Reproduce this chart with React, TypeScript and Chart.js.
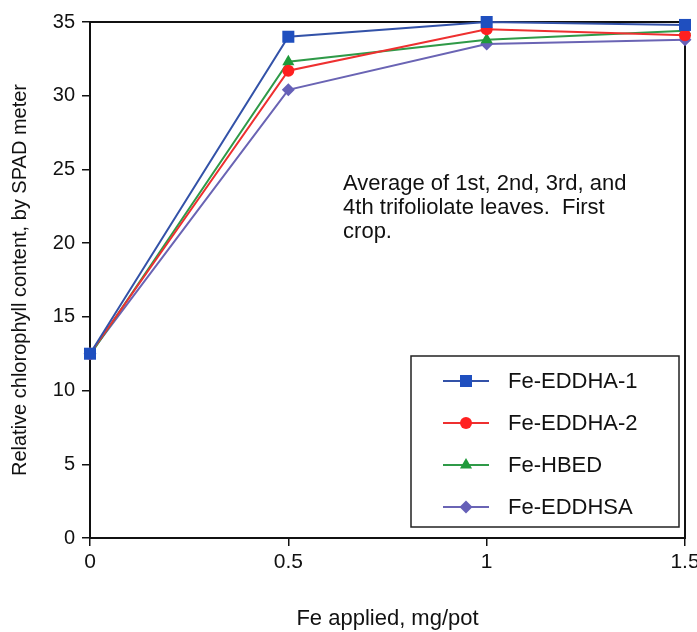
import React, { useEffect, useRef } from 'react';
import { Chart, registerables } from 'chart.js';

Chart.register(...registerables);

// ---- data ----
const feApplied = [0, 0.5, 1, 1.5];
const eddha1 = [12.5, 34.0, 35.0, 34.8];
const eddha2 = [12.5, 31.7, 34.5, 34.1];
const hbed = [12.4, 32.3, 33.8, 34.4];
const eddhsa = [12.5, 30.4, 33.5, 33.8];
const seriesNames = ['Fe-EDDHA-1', 'Fe-EDDHA-2', 'Fe-HBED', 'Fe-EDDHSA'];
const seriesValues = [eddha1, eddha2, hbed, eddhsa];
const lineColors = ['#3352a8', '#ee3030', '#2f9a48', '#6a64b4'];
const markerColors = ['#1f4fbf', '#ff2020', '#1f9a3a', '#6660b8'];
const pointStyles = ['rect', 'circle', 'triangle', 'rectRot'];
const pointSizes = [8.5, 6, 7, 6.5];
const xTickValues = [0, 0.5, 1, 1.5];
const xTickLabels = ['0', '0.5', '1', '1.5'];
const noteLines = ['Average of 1st, 2nd, 3rd, and', '4th trifoliolate leaves.  First', 'crop.'];
const noteAnchor = { x: 0.638, y: 23.6 };

const FONT = 'Arial, "Liberation Sans", Helvetica, sans-serif';
const TEXT = '#111';

function drawMarker(ctx: CanvasRenderingContext2D, style: string, x: number, y: number, r: number) {
  ctx.beginPath();
  if (style === 'rect') {
    const s = Math.SQRT1_2 * r;
    ctx.rect(x - s, y - s, 2 * s, 2 * s);
  } else if (style === 'circle') {
    ctx.arc(x, y, r, 0, Math.PI * 2);
  } else if (style === 'triangle') {
    ctx.moveTo(x, y - r);
    ctx.lineTo(x + r * 0.866, y + r * 0.5);
    ctx.lineTo(x - r * 0.866, y + r * 0.5);
    ctx.closePath();
  } else {
    ctx.moveTo(x - r, y);
    ctx.lineTo(x, y - r);
    ctx.lineTo(x + r, y);
    ctx.lineTo(x, y + r);
    ctx.closePath();
  }
  ctx.fill();
}

const framePlugin = {
  id: 'frame',
  beforeDatasetsDraw(chart: any) {
    const { ctx, chartArea } = chart;
    ctx.save();
    ctx.strokeStyle = '#111';
    ctx.lineWidth = 2;
    ctx.strokeRect(chartArea.left, chartArea.top, chartArea.right - chartArea.left, chartArea.bottom - chartArea.top);
    ctx.restore();
  },
};

const notePlugin = {
  id: 'note',
  afterDraw(chart: any) {
    const { ctx } = chart;
    const x = chart.scales.x.getPixelForValue(noteAnchor.x);
    const y = chart.scales.y.getPixelForValue(noteAnchor.y);
    ctx.save();
    ctx.fillStyle = TEXT;
    ctx.font = `22px ${FONT}`;
    ctx.textAlign = 'left';
    ctx.textBaseline = 'alphabetic';
    noteLines.forEach((line, i) => ctx.fillText(line, x, y + i * 24));
    ctx.restore();
  },
};

const legendPlugin = {
  id: 'boxLegend',
  afterDraw(chart: any) {
    const { ctx, chartArea } = chart;
    const w = 268;
    const rowH = 42;
    const h = 171;
    const right = chartArea.right - 6;
    const bottom = chartArea.bottom - 11;
    const left = right - w;
    const top = bottom - h;
    ctx.save();
    ctx.fillStyle = '#fff';
    ctx.fillRect(left, top, w, h);
    ctx.strokeStyle = '#222';
    ctx.lineWidth = 1.5;
    ctx.strokeRect(left, top, w, h);
    chart.data.datasets.forEach((ds: any, i: number) => {
      const cy = top + 25 + i * rowH;
      ctx.strokeStyle = ds.borderColor;
      ctx.lineWidth = 2;
      ctx.beginPath();
      ctx.moveTo(left + 32, cy);
      ctx.lineTo(left + 78, cy);
      ctx.stroke();
      ctx.fillStyle = ds.pointBackgroundColor;
      drawMarker(ctx, ds.pointStyle, left + 55, cy, ds.pointRadius);
      ctx.fillStyle = TEXT;
      ctx.font = `22px ${FONT}`;
      ctx.textAlign = 'left';
      ctx.textBaseline = 'middle';
      ctx.fillText(ds.label, left + 97, cy + 1);
    });
    ctx.restore();
  },
};

export default function App() {
  const ref = useRef<HTMLCanvasElement | null>(null);
  useEffect(() => {
    if (!ref.current) return;
    const chart = new Chart(ref.current, {
      type: 'line',
      data: {
        datasets: seriesNames.map((name, i) => ({
          label: name,
          data: feApplied.map((x, j) => ({ x, y: seriesValues[i][j] })),
          borderColor: lineColors[i],
          backgroundColor: markerColors[i],
          pointBackgroundColor: markerColors[i],
          pointBorderColor: markerColors[i],
          pointBorderWidth: 0,
          pointStyle: pointStyles[i] as any,
          pointRadius: pointSizes[i],
          borderWidth: 2,
          tension: 0,
          fill: false,
          clip: false as any,
        })),
      },
      options: {
        animation: false,
        responsive: true,
        maintainAspectRatio: false,
        layout: { padding: { top: 22, right: 12, left: 0, bottom: 0 } },
        plugins: { legend: { display: false }, tooltip: { enabled: false } },
        scales: {
          x: {
            type: 'linear',
            min: 0,
            max: 1.5,
            afterBuildTicks: (s: any) => {
              s.ticks = xTickValues.map((v) => ({ value: v }));
            },
            afterFit: (s: any) => {
              s.height = 94;
              s.paddingLeft = 0;
              s.paddingRight = 0;
            },
            ticks: {
              color: TEXT,
              font: { family: FONT, size: 21 },
              padding: 4,
              maxRotation: 0,
              autoSkip: false,
              callback: (v: any) => {
                const idx = xTickValues.indexOf(Number(v));
                return idx >= 0 ? xTickLabels[idx] : '';
              },
            },
            grid: { drawOnChartArea: false, drawTicks: true, tickLength: 8, color: '#111', lineWidth: 1.5 },
            border: { display: true, color: '#111', width: 2 },
            title: {
              display: true,
              text: 'Fe applied, mg/pot',
              color: TEXT,
              font: { family: FONT, size: 22, lineHeight: 1.2 },
              padding: { top: 0, bottom: 0 },
            },
          },
          y: {
            type: 'linear',
            min: 0,
            max: 35,
            ticks: {
              stepSize: 5,
              color: TEXT,
              font: { family: FONT, size: 20 },
              padding: 7,
            },
            afterFit: (s: any) => {
              s.width = 90;
              s.paddingTop = 0;
              s.paddingBottom = 0;
            },
            grid: { drawOnChartArea: false, drawTicks: true, tickLength: 8, color: '#111', lineWidth: 1.5 },
            border: { display: true, color: '#111', width: 2 },
            title: {
              display: true,
              text: 'Relative chlorophyll content, by SPAD meter',
              color: TEXT,
              font: { family: FONT, size: 20, lineHeight: 1.2 },
              padding: { top: 8, bottom: 0 },
            },
          },
        },
      },
      plugins: [framePlugin, notePlugin, legendPlugin],
    });
    return () => chart.destroy();
  }, []);

  return (
    <div style={{ position: 'fixed', left: 0, top: 0, width: 697, height: 632, background: '#fff' }}>
      <canvas ref={ref} />
    </div>
  );
}
